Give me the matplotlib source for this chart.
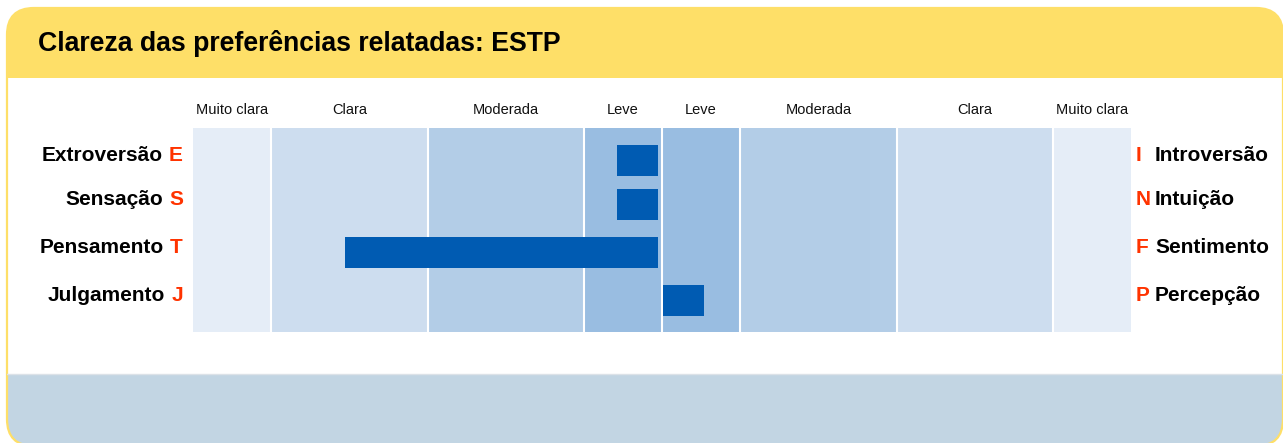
import matplotlib.pyplot as plt
from matplotlib.patches import FancyBboxPatch, Rectangle

plt.rcParams['font.family'] = ['Liberation Sans', 'DejaVu Sans']

# dados
titulo = "Clareza das preferências relatadas: ESTP"
faixas = ["Muito clara", "Clara", "Moderada", "Leve", "Leve", "Moderada", "Clara", "Muito clara"]
limites = [-30, -25, -15, -5, 0, 5, 15, 25, 30]
pal_esq = ["Extroversão", "Sensação", "Pensamento", "Julgamento"]
letra_esq = ["E", "S", "T", "J"]
letra_dir = ["I", "N", "F", "P"]
pal_dir = ["Introversão", "Intuição", "Sentimento", "Percepção"]
# valor da barra e lado (-1 = esquerda, 1 = direita)
valores = [2.6, 2.6, 20, 2.6]
lados = [-1, -1, -1, 1]

# posição vertical das linhas (layout)
pos_linhas = [0, 0.943, 1.971, 3.0]

cores_faixa = ['#E5EDF7', '#CDDDEF', '#B3CDE7', '#99BDE1',
               '#99BDE1', '#B3CDE7', '#CDDDEF', '#E5EDF7']
amarelo = '#FEDF68'
azul_barra = '#005BB2'
vermelho = '#FF3300'

W, H = 1283, 443
fig = plt.figure(figsize=(W / 100, H / 100), dpi=100)

# fundo em coordenadas de pixel (y a partir de baixo)
bg = fig.add_axes([0, 0, 1, 1])
bg.set_xlim(0, W)
bg.set_ylim(0, H)
bg.axis('off')

def py(y):
    # pixel do topo -> coordenada do eixo
    return H - y

caixa = FancyBboxPatch((7, py(446)), 1276, 438, boxstyle="round,pad=0,rounding_size=27",
                       facecolor='white', edgecolor='none')
bg.add_patch(caixa)
topo = Rectangle((0, py(78)), W, 80, facecolor=amarelo, edgecolor='none')
bg.add_patch(topo)
topo.set_clip_path(caixa)
rodape = Rectangle((0, -10), W, py(374) + 10, facecolor='#C2D5E3', edgecolor='none')
bg.add_patch(rodape)
rodape.set_clip_path(caixa)
sep, = bg.plot([0, W], [py(373.5), py(373.5)], color='#DCE2E8', lw=1)
sep.set_clip_path(caixa)
borda = FancyBboxPatch((7, py(446)), 1276, 438, boxstyle="round,pad=0,rounding_size=27",
                       facecolor='none', edgecolor=amarelo, lw=1.6)
bg.add_patch(borda)

bg.text(38, py(51), titulo, fontsize=19.2, fontweight='bold', color='black',
        ha='left', va='baseline')

# área do gráfico
x0, x1, y0, y1 = 193, 1131, 128, 332
ax = fig.add_axes([x0 / W, 1 - y1 / H, (x1 - x0) / W, (y1 - y0) / H])
ax.set_xlim(-30, 30)
ax.set_ylim(3.675, -0.696)
ax.axis('off')

for i in range(len(faixas)):
    ax.axvspan(limites[i], limites[i + 1], color=cores_faixa[i], lw=0, zorder=1)
    meio = (limites[i] + limites[i + 1]) / 2
    ax.annotate(faixas[i], xy=(meio, 1), xycoords=('data', 'axes fraction'),
                xytext=(0, 14), textcoords='offset pixels',
                ha='center', va='baseline', fontsize=10.5, color='#111111')
for b in limites[1:-1]:
    ax.axvline(b, color='white', lw=1.5, zorder=2)

for yp, v, lado in zip(pos_linhas, valores, lados):
    if lado < 0:
        ax.barh(yp, v, left=-0.26 - v, height=0.664, color=azul_barra, lw=0, zorder=3)
    else:
        ax.barh(yp, v, left=0.06, height=0.664, color=azul_barra, lw=0, zorder=3)

for i in range(len(pal_esq)):
    yb = pos_linhas[i] + 0.02
    t = ax.annotate(letra_esq[i], xy=(-30, yb), xytext=(-10, 0), textcoords='offset pixels',
                    ha='right', va='baseline', fontsize=15, fontweight='bold', color=vermelho)
    ax.annotate(pal_esq[i], xy=(0, 0), xycoords=t, xytext=(-6, 0), textcoords='offset pixels',
                ha='right', va='bottom', fontsize=15, fontweight='bold', color='black')
    ax.annotate(letra_dir[i], xy=(30, yb), xytext=(5, 0), textcoords='offset pixels',
                ha='left', va='baseline', fontsize=15, fontweight='bold', color=vermelho)
    ax.annotate(pal_dir[i], xy=(30, yb), xytext=(24, 0), textcoords='offset pixels',
                ha='left', va='baseline', fontsize=15, fontweight='bold', color='black')

fig.savefig('out.png', dpi=100)
